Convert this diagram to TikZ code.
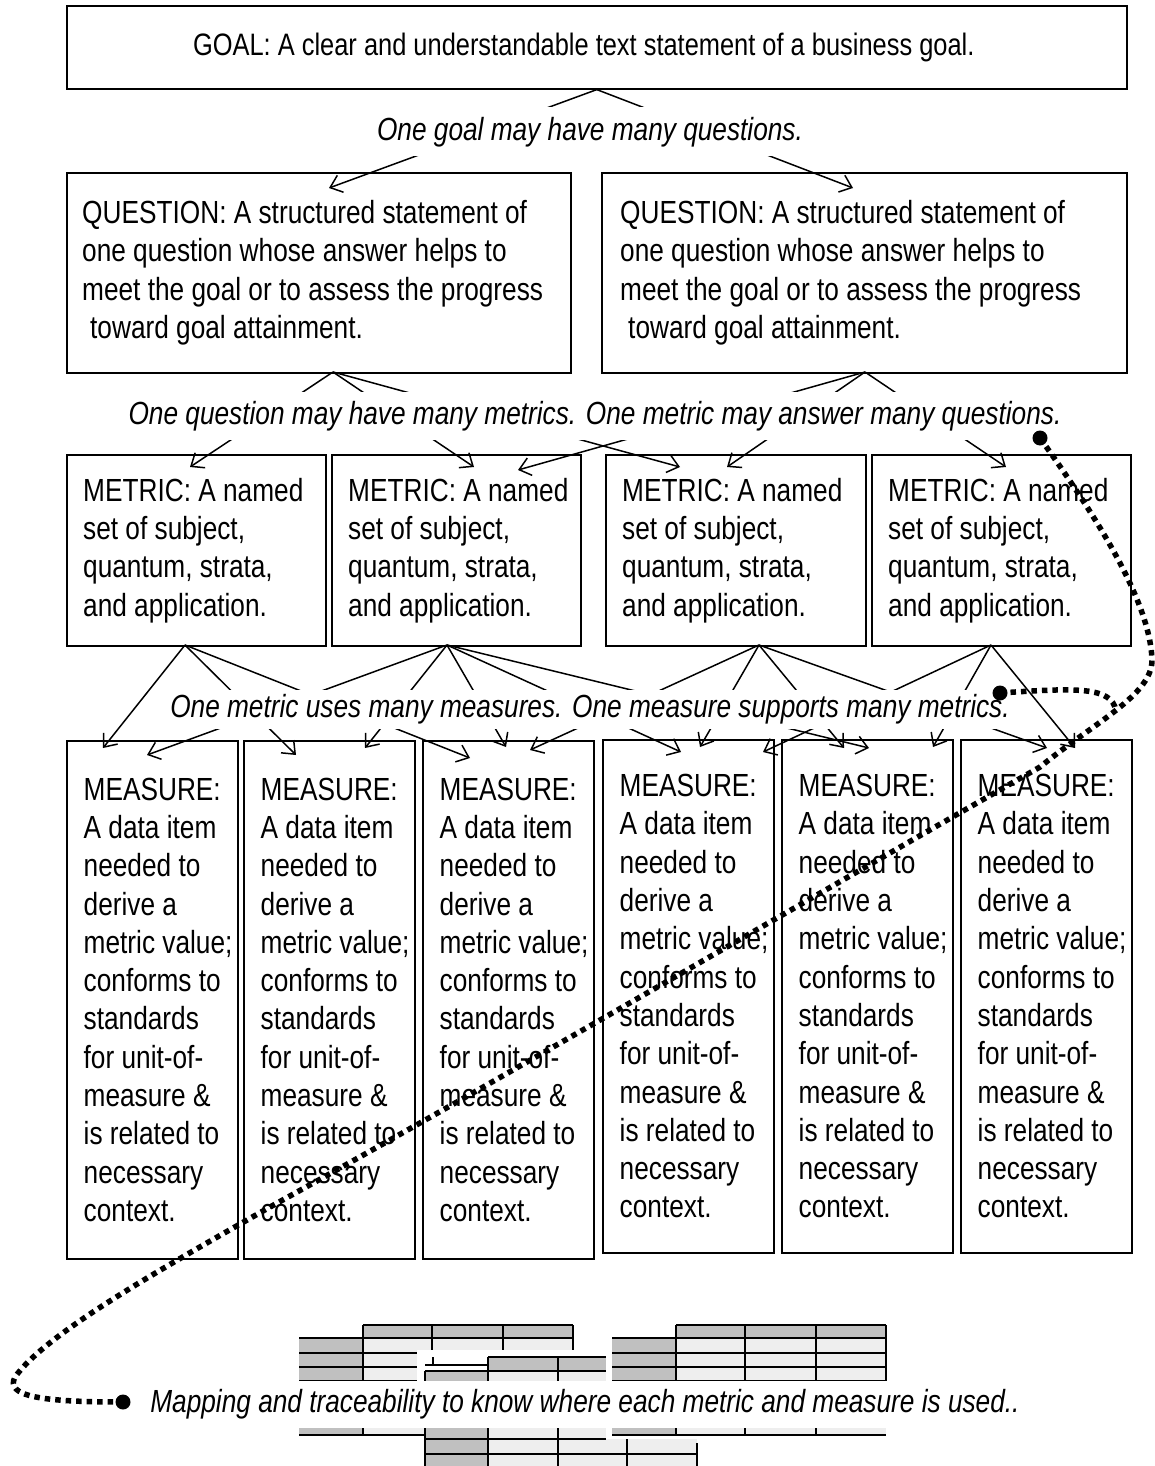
\documentclass[tikz,border=0pt]{standalone}
\usepackage{fontspec}
\setmainfont{Liberation Sans}[FakeStretch=0.82]
\usetikzlibrary{arrows.meta}
\definecolor{cellgray}{HTML}{C0C0C0}
\definecolor{celllight}{HTML}{EEEEEE}

\tikzset{
  frame/.style={draw, line width=1.6pt, inner sep=0pt, anchor=north west},
  body/.style={anchor=west, align=left, inner sep=0pt, font=\fontsize{32}{38.3}\selectfont},
  note/.style={fill=white, inner xsep=4pt, font=\fontsize{32}{38}\selectfont\itshape, text height=24pt, text depth=7pt},
  link/.style={line width=1.5pt, -{Straight Barb[length=11pt,width=18pt]}},
  trace/.style={line width=5.5pt, dash pattern=on 5.5pt off 5pt},
  tracedot/.style={circle, fill=black, minimum size=15pt, inner sep=0pt},
  gridline/.style={line width=1.6pt},
}

\begin{document}
\begin{tikzpicture}[x=1pt, y=-1pt]
\useasboundingbox[fill=white] (0,0) rectangle (1154,1466);

% ---------- boxes ----------
\node[frame, minimum width=1060pt, minimum height=83pt] (goal) at (66,5) {};
\node[body, anchor=center, font=\fontsize{31}{37}\selectfont] (goaltext) at ([xshift=-13pt]goal.center)
  {GOAL: A clear and understandable text statement of a business goal.};

\node[frame, minimum width=504pt, minimum height=200pt] (q1) at (66,172) {};
\node[frame, minimum width=525pt, minimum height=200pt] (q2) at (601,172) {};
\node[body] (qt1) at ([xshift=16pt]q1.west)
  {QUESTION: A structured statement of\\one question whose answer helps to\\meet the goal or to assess the progress\\\hspace*{8pt}toward goal attainment.};
\node[body] (qt2) at ([xshift=19pt]q2.west)
  {QUESTION: A structured statement of\\one question whose answer helps to\\meet the goal or to assess the progress\\\hspace*{8pt}toward goal attainment.};

\foreach \i/\x/\w in {1/66/259, 2/331/249, 3/605/260, 4/871/259} {
  \node[frame, minimum width={\w pt}, minimum height=191pt] (m\i) at (\x,454) {};
  \node[body] (mt\i) at ([xshift=17pt]m\i.west)
    {METRIC: A named\\set of subject,\\quantum, strata,\\and application.};
}

\foreach \i/\x/\y/\h in {1/66/740/518, 2/243/740/518, 3/422/740/518, 4/602/739/513, 5/781/739/513, 6/960/739/513} {
  \node[frame, minimum width=171pt, minimum height={\h pt}] (s\i) at (\x,\y) {};
  \node[body] (st\i) at ([xshift=17.5pt]s\i.west)
    {MEASURE:\\A data item\\needed to\\derive a\\metric value;\\conforms to\\standards\\for unit-of-\\measure \&\\is related to\\necessary\\context.};
}

% ---------- connector end points ----------
\coordinate (goalfoot) at (goal.south);
\coordinate (q1foot) at (333,372);
\coordinate (q2foot) at (865,372);
\coordinate (m1foot) at (185,645);
\coordinate (m2foot) at (447,645);
\coordinate (m3foot) at (759,645);
\coordinate (m4foot) at (991,645);

\coordinate (q1in) at (329,188);
\coordinate (q2in) at (853,188);

\coordinate (m1in) at (190,467);
\coordinate (m2ina) at (474,467);
\coordinate (m2inb) at (518,470);
\coordinate (m3ina) at (680,467);
\coordinate (m3inb) at (727,467);
\coordinate (m4in) at (1006,467);

\coordinate (s1ina) at (103,748);
\coordinate (s1inb) at (147,755);
\coordinate (s2ina) at (296,755);
\coordinate (s2inb) at (365,748);
\coordinate (s3ina) at (470,758);
\coordinate (s3inb) at (506,747);
\coordinate (s3inc) at (530,750);
\coordinate (s4ina) at (681,752);
\coordinate (s4inb) at (700,747);
\coordinate (s4inc) at (763,752);
\coordinate (s5ina) at (844,748);
\coordinate (s5inb) at (869,748);
\coordinate (s5inc) at (933,747);
\coordinate (s6ina) at (1047,748);
\coordinate (s6inb) at (1075,748);

% ---------- connectors ----------
\draw[link] (goalfoot) -- (q1in);
\draw[link] (goalfoot) -- (q2in);

\draw[link] (q1foot) -- (m1in);
\draw[link] (q1foot) -- (m2ina);
\draw[link] (q1foot) -- (m3ina);
\draw[link] (q2foot) -- (m2inb);
\draw[link] (q2foot) -- (m3inb);
\draw[link] (q2foot) -- (m4in);

\draw[link] (m1foot) -- (s1ina);
\draw[link] (m1foot) -- (s2ina);
\draw[link] (m1foot) -- (s3ina);
\draw[link] (m2foot) -- (s1inb);
\draw[link] (m2foot) -- (s2inb);
\draw[link] (m2foot) -- (s3inb);
\draw[link] (m2foot) -- (s4ina);
\draw[link] (m2foot) -- (s5inb);
\draw[link] (m3foot) -- (s3inc);
\draw[link] (m3foot) -- (s4inb);
\draw[link] (m3foot) -- (s5ina);
\draw[link] (m3foot) -- (s6ina);
\draw[link] (m4foot) -- (s4inc);
\draw[link] (m4foot) -- (s5inc);
\draw[link] (m4foot) -- (s6inb);

% ---------- relationship notes ----------
\node[note, inner ysep=9pt] (l1) at (590,132) {One goal may have many questions.};
\node[note, inner ysep=8.5pt] (l2) at (595,416) {One question may have many metrics. One metric may answer many questions.};
\node[note, inner ysep=4pt] (l3) at (590,709) {One metric uses many measures. One measure supports many metrics.};

% ---------- table icons ----------
\foreach \ox in {0, 313} {
  \fill[cellgray] (363+\ox,1325) rectangle (573+\ox,1338);
  \fill[cellgray] (299+\ox,1338) rectangle (363+\ox,1381);
  \fill[celllight] (363+\ox,1338) rectangle (573+\ox,1381);
  \draw[gridline] (363+\ox,1325) -- (573+\ox,1325);
  \foreach \yy in {1338,1353,1367,1381} \draw[gridline] (299+\ox,\yy) -- (573+\ox,\yy);
  \foreach \xx in {363,432,503,573} \draw[gridline] (\xx+\ox,1325) -- (\xx+\ox,1381);
  \fill[cellgray] (299+\ox,1427) rectangle (363+\ox,1435);
  \fill[celllight] (363+\ox,1427) rectangle (573+\ox,1435);
  \draw[gridline] (299+\ox,1435) -- (573+\ox,1435);
  \foreach \xx in {363,432,503} \draw[gridline] (\xx+\ox,1427) -- (\xx+\ox,1435);
}
% middle table, in front
\fill[white] (417,1350) rectangle (606,1427);
\fill[cellgray] (488,1357) rectangle (606,1371);
\draw[gridline] (488,1357) -- (606,1357);
\draw[gridline] (425,1365) -- (488,1365);
\draw[gridline] (433,1357) -- (433,1365);
\fill[cellgray] (425,1371) rectangle (488,1466);
\fill[celllight] (488,1371) rectangle (606,1439);
\fill[celllight] (488,1439) rectangle (697,1466);
\draw[gridline] (425,1371) -- (606,1371);
\draw[gridline] (425,1371) -- (425,1466);
\draw[gridline] (488,1357) -- (488,1466);
\draw[gridline] (558,1357) -- (558,1466);
\draw[gridline] (425,1439) -- (606,1439);
\draw[gridline] (425,1454) -- (697,1454);
\draw[gridline] (627,1439) -- (627,1466);
\draw[gridline] (697,1443) -- (697,1466);

\node[note, inner ysep=8pt] (l4) at (585,1404) {Mapping and traceability to know where each metric and measure is used..};

% ---------- traceability trace ----------
\node[tracedot] (da) at (1040,438) {};
\node[tracedot] (db) at (1000,693) {};
\node[tracedot] (dc) at (123,1402) {};
\coordinate (join) at (1116,711);

\draw[trace] (da.center) .. controls (1095,515) and (1150,600) .. (1152,660)
  .. controls (1152,695) and (1095,722) .. (1040,767)
  .. controls (780,915) and (500,1080) .. (270,1207)
  .. controls (150,1275) and (45,1335) .. (15,1377)
  .. controls (5,1396) and (40,1402) .. (dc.center);
\draw[trace] (db.center) .. controls (1075,688) and (1112,686) .. (join);

\end{tikzpicture}
\end{document}
